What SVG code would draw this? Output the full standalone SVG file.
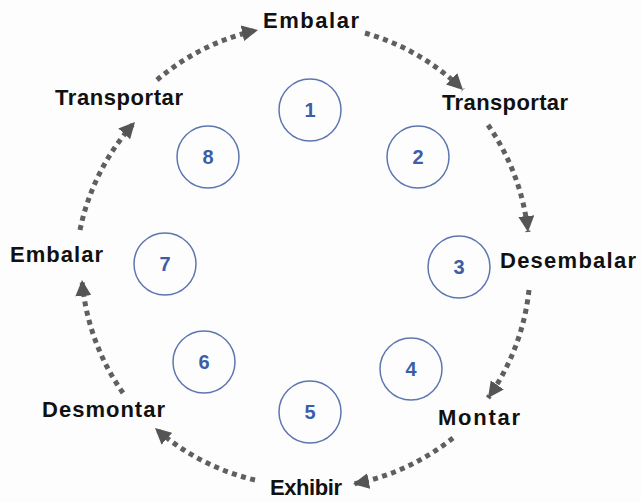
<svg xmlns="http://www.w3.org/2000/svg" width="641" height="502" viewBox="0 0 641 502">
<defs>
<style>
.lbl{font-family:"Liberation Sans",Arial,sans-serif;font-weight:bold;font-size:22px;fill:#111}
.num{font-family:"Liberation Sans",Arial,sans-serif;font-weight:bold;font-size:20px;fill:#3b5ea6;text-anchor:middle}
.ring{fill:none;stroke:#5d76b0;stroke-width:1.5}
.arr{fill:none;stroke:#5f5f5f;stroke-width:5;stroke-dasharray:5 4.5;marker-end:url(#ah)}
</style>
<marker id="ah" markerUnits="userSpaceOnUse" markerWidth="18" markerHeight="16" refX="16" refY="8" orient="auto">
<path d="M0,0 L16,8 L0,16 z" fill="#555"/>
</marker>
</defs>
<rect width="641" height="502" fill="#fdfdfd"/>
<g id="connectors">
<path class="arr" d="M157,80 A228,228 0 0 1 258,30"/>
<path class="arr" d="M365,33 A228,228 0 0 1 463,90"/>
<path class="arr" d="M488,125 A228,228 0 0 1 528,232"/>
<path class="arr" d="M529,290 A228,228 0 0 1 488,398"/>
<path class="arr" d="M453,438 A228,228 0 0 1 353,484"/>
<path class="arr" d="M255,480 A228,228 0 0 1 155,428"/>
<path class="arr" d="M123,393 A228,228 0 0 1 82,280"/>
<path class="arr" d="M80,230 A228,228 0 0 1 135,122"/>
</g>
<g id="n1"><circle class="ring" cx="310" cy="110" r="31"/><text class="num" x="310" y="117">1</text></g>
<g id="n2"><circle class="ring" cx="418" cy="157" r="31"/><text class="num" x="418" y="164">2</text></g>
<g id="n3"><circle class="ring" cx="459" cy="267" r="31"/><text class="num" x="459" y="274">3</text></g>
<g id="n4"><circle class="ring" cx="411" cy="369" r="31"/><text class="num" x="411" y="376">4</text></g>
<g id="n5"><circle class="ring" cx="310" cy="412" r="31"/><text class="num" x="310" y="419">5</text></g>
<g id="n6"><circle class="ring" cx="204" cy="362" r="31"/><text class="num" x="204" y="369">6</text></g>
<g id="n7"><circle class="ring" cx="165" cy="264" r="31"/><text class="num" x="165" y="271">7</text></g>
<g id="n8"><circle class="ring" cx="208" cy="157" r="31"/><text class="num" x="208" y="164">8</text></g>
<g id="l-embalar-top"><text class="lbl" x="263" y="28" textLength="96">Embalar</text></g>
<g id="l-transportar-r"><text class="lbl" x="442" y="110" textLength="126">Transportar</text></g>
<g id="l-desembalar"><text class="lbl" x="500" y="268" textLength="136">Desembalar</text></g>
<g id="l-montar"><text class="lbl" x="438" y="425" textLength="82">Montar</text></g>
<g id="l-exhibir"><text class="lbl" x="270" y="495" textLength="72">Exhibir</text></g>
<g id="l-desmontar"><text class="lbl" x="42" y="417" textLength="123">Desmontar</text></g>
<g id="l-embalar-l"><text class="lbl" x="10" y="262" textLength="93">Embalar</text></g>
<g id="l-transportar-l"><text class="lbl" x="55" y="105" textLength="128">Transportar</text></g>
</svg>
